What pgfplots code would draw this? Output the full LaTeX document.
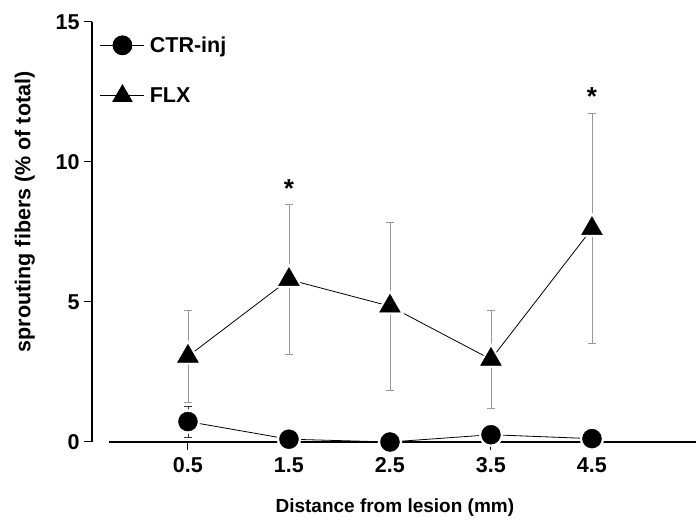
\documentclass[border=0pt]{standalone}
\usepackage{fontspec}
\setmainfont{Liberation Sans}
\usepackage{pgfplots}
\pgfplotsset{compat=1.18}
\begin{document}
\begin{tikzpicture}
\pgfplotsset{
  every axis/.append style={
    scale only axis, height=420pt, ymin=0, ymax=15, clip=false,
    /pgf/number format/assume math mode=true,
    tick label style={font=\bfseries\fontsize{21.5}{24}\selectfont},
    tick style={black, line width=1pt},
    axis line style={line width=1.1pt, -},
    tick align=outside, major tick length=8pt,
  },
}
% x axis: a separate line, starting a little right of the y axis
\begin{axis}[
  width=587pt, xshift=17pt,
  xmin=-0.28, xmax=5.53,
  axis x line*=bottom, hide y axis,
  xtick={0.5,1.5,2.5,3.5,4.5},
  xticklabels={0.5,1.5,2.5,3.5,4.5},
  xticklabel style={yshift=-4pt},
  xlabel={Distance from lesion (mm)},
  xlabel style={font=\bfseries\fontsize{19}{22}\selectfont,
    at={(axis description cs:0.487,-0.157)}, anchor=center},
]
\end{axis}
% y axis with the data
\begin{axis}[
  width=604pt,
  xmin=-0.45, xmax=5.53,
  axis y line*=left, hide x axis,
  ytick={0,5,10,15},
  yticklabel style={xshift=-1pt},
  ylabel={sprouting fibers (\% of total)},
  ylabel style={font=\bfseries\fontsize{21.5}{24}\selectfont,
    at={(axis description cs:-0.111,0.548)}, anchor=center},
  legend style={draw=none, fill=none, inner sep=0pt,
    at={(axis description cs:0.013,0.97)}, anchor=north west,
    font=\bfseries\fontsize{21.5}{24}\selectfont,
    row sep=29pt,
    nodes={inner xsep=5pt}},
  legend cell align=left,
  legend image code/.code={
    \draw[mark repeat=2, mark phase=2] plot coordinates {(0pt,0pt) (22pt,0pt) (44pt,0pt)};},
]
% CTR-inj
\addplot[black, line width=0.8pt, forget plot,
  error bars/.cd, y dir=both, y explicit,
  error bar style={black!80, line width=0.8pt},
  error mark options={rotate=90, black!80, line width=0.8pt, mark size=4pt}]
  table[y error=e] {
x   y    e
0.5 0.73 0.55
1.5 0.10 0
2.5 0.00 0
3.5 0.26 0
4.5 0.12 0
};
% FLX
\addplot[black, line width=0.8pt, forget plot,
  error bars/.cd, y dir=both, y explicit,
  error bar style={gray!80, line width=0.8pt},
  error mark options={rotate=90, gray!80, line width=0.8pt, mark size=4pt}]
  table[y error=e] {
x   y    e
0.5 3.06 1.64
1.5 5.80 2.68
2.5 4.85 3.00
3.5 2.95 1.75
4.5 7.62 4.10
};
% white halos that break lines and error bars at the markers
\addplot[only marks, mark=*, mark size=12pt, white, forget plot] table {
x   y
0.5 0.73
1.5 0.10
2.5 0.00
3.5 0.26
4.5 0.12
};
\addplot[only marks, mark=triangle*, mark size=16pt, white, forget plot] table {
x   y
0.5 3.06
1.5 5.80
2.5 4.85
3.5 2.95
4.5 7.62
};
\addplot[only marks, mark=*, mark size=9.5pt, black, forget plot] table {
x   y
0.5 0.73
1.5 0.10
2.5 0.00
3.5 0.26
4.5 0.12
};
\addplot[only marks, mark=triangle*, mark size=12pt, black, forget plot] table {
x   y
0.5 3.06
1.5 5.80
2.5 4.85
3.5 2.95
4.5 7.62
};
\addlegendimage{black, line width=0.8pt, mark=*, mark size=9.5pt}
\addlegendentry{CTR-inj}
\addlegendimage{black, line width=0.8pt, mark=triangle*, mark size=11pt}
\addlegendentry{FLX}
\node[font=\bfseries\fontsize{26}{26}\selectfont] at (axis cs:1.5,9.05) {*};
\node[font=\bfseries\fontsize{26}{26}\selectfont] at (axis cs:4.5,12.35) {*};
\end{axis}
\pgfresetboundingbox
\path[use as bounding box] ([shift={(-92pt,-84pt)}]current axis.south west)
  rectangle ([shift={(0pt,22pt)}]current axis.north east);
\end{tikzpicture}
\end{document}
